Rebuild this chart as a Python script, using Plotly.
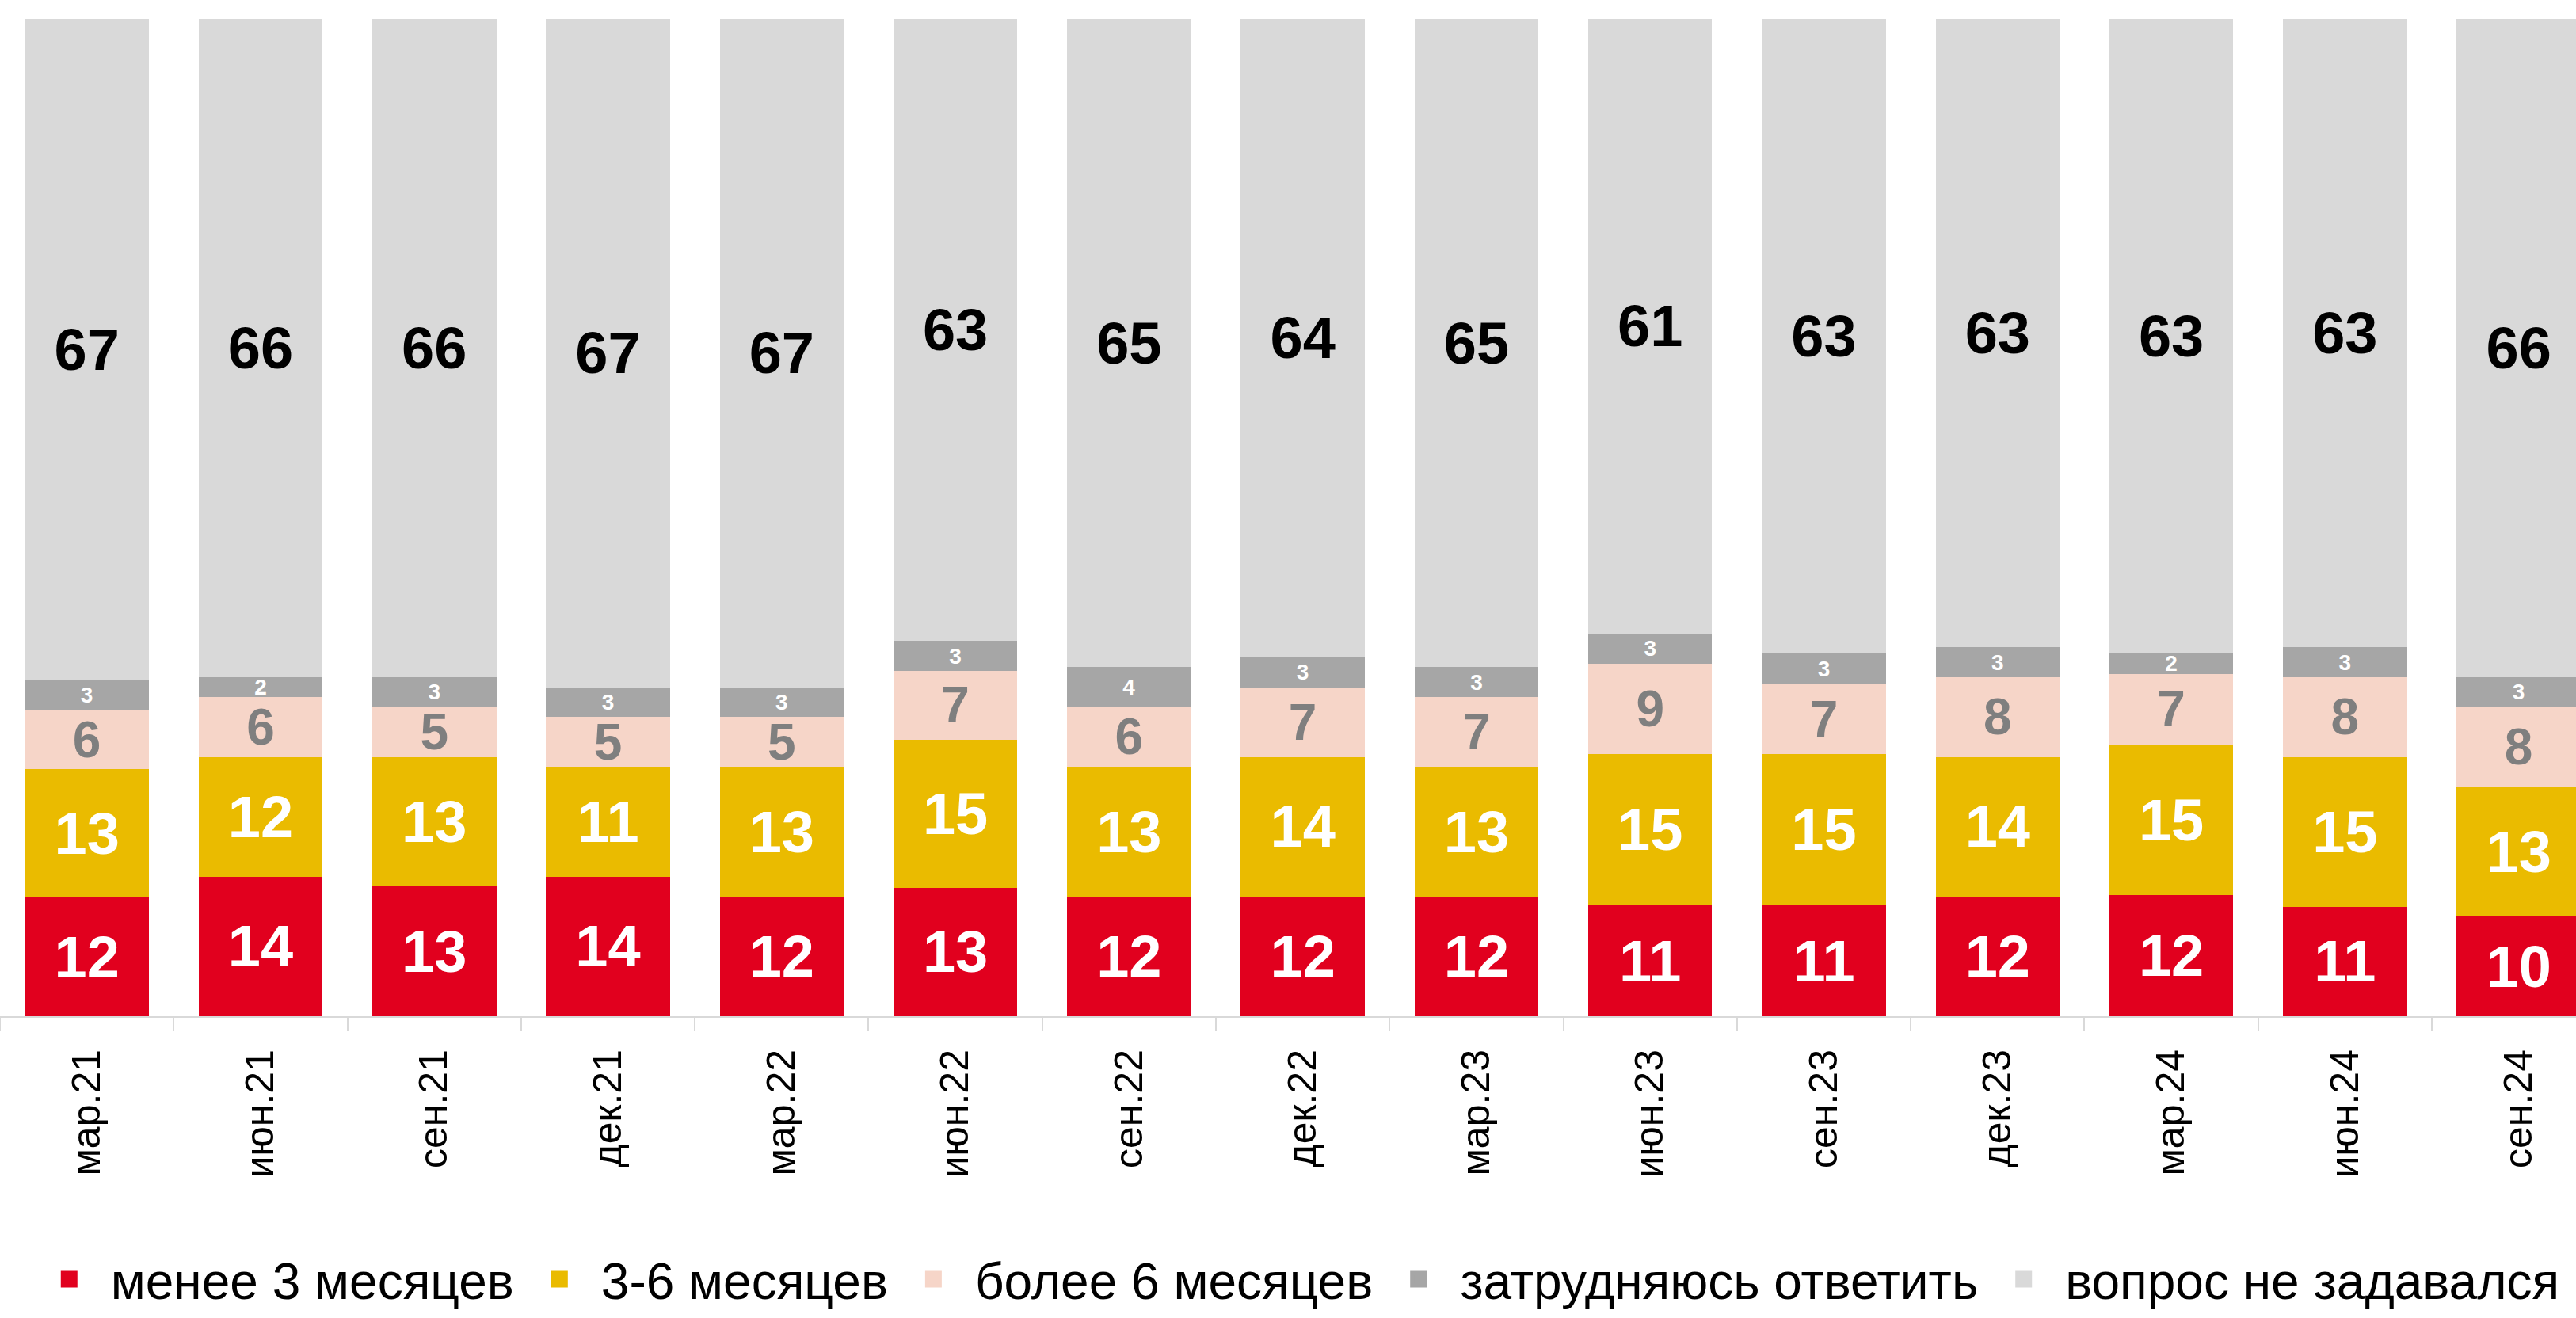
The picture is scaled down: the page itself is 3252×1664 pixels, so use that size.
import plotly.graph_objects as go

categories = ["мар.21", "июн.21", "сен.21", "дек.21", "мар.22", "июн.22", "сен.22", "дек.22",
              "мар.23", "июн.23", "сен.23", "дек.23", "мар.24", "июн.24", "сен.24"]

less_3 = [12, 14, 13, 14, 12, 13, 12, 12, 12, 11, 11, 12, 12, 11, 10]
m3_6 = [13, 12, 13, 11, 13, 15, 13, 14, 13, 15, 15, 14, 15, 15, 13]
more_6 = [6, 6, 5, 5, 5, 7, 6, 7, 7, 9, 7, 8, 7, 8, 8]
hard = [3, 2, 3, 3, 3, 3, 4, 3, 3, 3, 3, 3, 2, 3, 3]
not_asked = [67, 66, 66, 67, 67, 63, 65, 64, 65, 61, 63, 63, 63, 63, 66]

series = [
    ("менее 3 месяцев", less_3, "#E1001E", "#FFFFFF", 74),
    ("3-6 месяцев", m3_6, "#EABB00", "#FFFFFF", 74),
    ("более 6 месяцев", more_6, "#F6D5C8", "#7F7F7F", 64),
    ("затрудняюсь ответить", hard, "#A6A6A6", "#FFFFFF", 28),
    ("вопрос не задавался", not_asked, "#D9D9D9", "#000000", 74),
]

FONT = "Liberation Sans, Arial, sans-serif"

fig = go.Figure()
for name, vals, color, tcolor, tsize in series:
    fig.add_trace(go.Bar(
        x=categories, y=vals, name=name,
        marker=dict(color=color, line=dict(width=0)),
        text=vals, texttemplate="%{text}",
        textposition="inside", insidetextanchor="middle", textangle=0,
        constraintext="none",
        textfont=dict(family=FONT, size=tsize, color=tcolor, weight="bold"),
        showlegend=False, hoverinfo="skip",
    ))

for name, vals, color, tcolor, tsize in series:
    fig.add_trace(go.Scatter(
        x=[None], y=[None], mode="markers", name=name,
        marker=dict(symbol="square", size=16, color=color, line=dict(width=5, color=color)),
        showlegend=True,
    ))

fig.update_layout(
    width=3252, height=1664,
    barmode="stack", barnorm="percent", bargap=0.286,
    plot_bgcolor="white", paper_bgcolor="white",
    margin=dict(l=0, r=0, t=24, b=381),
    font=dict(family=FONT, color="black"),
    legend=dict(
        orientation="h", traceorder="normal",
        x=0.503, xanchor="center", yref="container", y=0.0, yanchor="bottom",
        font=dict(family=FONT, size=64, color="black"),
        itemwidth=95, bgcolor="rgba(0,0,0,0)",
    ),
    xaxis=dict(
        type="category", range=[-0.5, 14.33],
        tickson="boundaries", ticks="outside", ticklen=17, tickcolor="#D9D9D9", tickwidth=2,
        showline=True, linecolor="#D9D9D9", linewidth=2,
        tickangle=-90, tickfont=dict(family=FONT, size=50, color="black"),
        ticklabelstandoff=20,
        showgrid=False,
    ),
    yaxis=dict(range=[0, 100], visible=False, showgrid=False, zeroline=False),
)

fig.write_html("out.html", config={"displayModeBar": False},
               post_script="document.body.style.margin='0';document.body.style.overflow='hidden';")
